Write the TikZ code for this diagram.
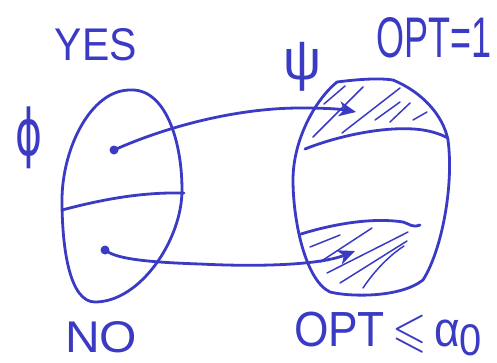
\documentclass[tikz,border=0pt]{standalone}
\usepackage{amssymb}
\usepackage{graphicx}
\usepackage{fontspec}
\setsansfont{Liberation Sans}
\newfontfamily\greekfont{DejaVu Sans}
\usetikzlibrary{arrows.meta}
\definecolor{pen}{RGB}{58,58,196}
\tikzset{
  ink/.style={draw=pen, line width=2.8pt, line cap=round, line join=round},
  hatch/.style={draw=pen, line width=1.5pt, line cap=round},
  lbl/.style={text=pen, inner sep=0pt, font=\sffamily},
  dotnode/.style={circle, fill=pen, inner sep=0pt, minimum size=9pt},
  mapto/.style={ink, -{Stealth[length=17pt,width=15pt,inset=5pt]}}
}
\begin{document}
\begin{tikzpicture}[x=1pt,y=-1pt]
\useasboundingbox (0,0) rectangle (497,362);
% left oval
\draw[ink] (130,90) .. controls (165,88) and (182,140) .. (182,190)
  .. controls (182,240) and (140,302) .. (95,302)
  .. controls (70,302) and (62,250) .. (62,200)
  .. controls (62,150) and (90,90) .. (130,90);
\draw[ink] (62,210) .. controls (100,200) and (140,192) .. (184,193);
% right oval
\def\rightoval{(337,82) .. controls (360,79) and (380,78) .. (393,80)
  .. controls (422,92) and (443,115) .. (448,140)
  .. controls (454,185) and (442,250) .. (423,280)
  .. controls (400,298) and (350,297) .. (330,292)
  .. controls (305,280) and (293,220) .. (293,180)
  .. controls (293,140) and (315,100) .. (337,82)}
\draw[ink] \rightoval;
\draw[ink] (305,149) .. controls (340,135) and (390,125) .. (423,130)
  .. controls (435,132) and (442,135) .. (448,138);
\draw[ink] (301,234) .. controls (330,225) and (370,217) .. (403,222)
  .. controls (410,224) and (412,228) .. (420,225);
% hatching
\begin{scope}
\clip \rightoval;
\draw[hatch] (313,137) -- (363,87);
\draw[hatch] (324,104) -- (345,86);
\draw[hatch] (342,133) -- (400,88);
\draw[hatch] (375,120) -- (400,102);
\draw[hatch] (390,122) -- (410,103);
\draw[hatch] (413,120) -- (427,112);
\draw[hatch] (310,247) -- (340,235);
\draw[hatch] (320,262) -- (372,228);
\draw[hatch] (327,273) -- (408,232);
\draw[hatch] (340,283) -- (407,241);
\draw[hatch] (363,288) .. controls (375,270) and (390,255) .. (404,246);
\end{scope}
% dots and arrows
\node[dotnode] (p) at (114,150) {};
\node[dotnode] (q) at (105,250) {};
\coordinate (pt) at (356,112);
\coordinate (qt) at (355,251);
\draw[mapto] (p.center) .. controls (170,125) and (240,108) .. (300,108)
  .. controls (325,108) and (340,109) .. (pt);
\draw[mapto] (q.center) .. controls (115,258) and (140,262) .. (200,264)
  .. controls (260,267) and (320,265) .. (qt);
% labels
\node[lbl] (yes) at (96,45) {\resizebox{82pt}{32pt}{YES}};
\node[lbl] (no) at (101,337) {\resizebox{72pt}{31pt}{NO}};
\node[lbl] (phi) at (29,138) {\resizebox*{27pt}{62pt}{\greekfont ϕ}};
\node[lbl] (psi) at (302,67) {\resizebox*{38pt}{49pt}{ψ}};
\node[lbl] (opt1) at (434,38) {\resizebox{115pt}{40pt}{OPT=1}};
\node[lbl] (opta) at (388,334) {\resizebox*{188pt}{44pt}{OPT\,$\leqslant$\,α\raisebox{-0.35ex}{\small 0}}};
\end{tikzpicture}
\end{document}
